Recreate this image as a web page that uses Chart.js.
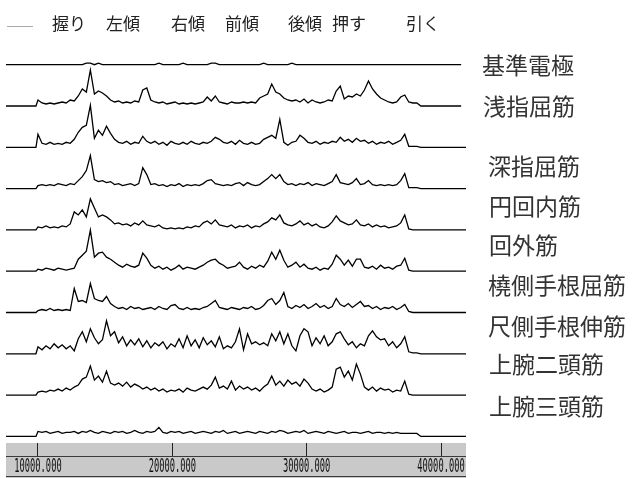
<!DOCTYPE html>
<html>
<head>
<meta charset="utf-8">
<script src="https://cdn.jsdelivr.net/npm/chart.js@4.4.1/dist/chart.umd.min.js"></script>
<style>
  body { margin: 0; background: #fff; }
  canvas { display: block; }
</style>
</head>
<body>
<canvas id="emg" width="632" height="478"></canvas>
<script>
// 上部の動作ラベルと右側の筋名
const phases = ['握り', '左傾', '右傾', '前傾', '後傾', '押す', '引く'];
const muscles = ['基準電極', '浅指屈筋', '深指屈筋', '円回内筋', '回外筋',
  '橈側手根屈筋', '尺側手根伸筋', '上腕二頭筋', '上腕三頭筋'];
const xTicks = [10000, 20000, 30000, 40000];

// 各チャンネルの振幅 (10000 から 300 刻み, 95 点)
const ch0 = [
  0, 0, 0, 0, 0, 0, 0, 0, 0, 0,
  0, 0, 1.5, 1.5, 0, 1.5, 0, 0, 0, 0,
  0, 0, 0, 0, 0, 0, 0, 0, 0, 0,
  1.5, 0, 0, 0, 0, 0, 1.5, 0, 0, 0,
  0, 0, 0, 1.5, 1.5, 0, 0, 0, 0, 0,
  0, 0, 0, 0, 0, 0, 1.5, 0, 0, 0,
  0, 0, 0, 1.5, 0, 0, 0, 0, 0, 0,
  0, 0, 0, 0, 0, 0, 0, 0, 0, 0,
  0, 0, 0, 0, 0, 0, 0, 0, 0, 0,
  0, 0, 0, 0, 0];
const ch1 = [
  6, 3, 2, 3, 2, 3, 4, 3, 6, 5,
  10, 17, 14, 36, 12, 15, 13, 10, 6, 4,
  5, 3, 4, 3, 5, 4, 16, 18, 6, 4,
  3, 4, 2, 3, 4, 2, 3, 2, 3, 2,
  3, 4, 9, 5, 10, 4, 3, 2, 4, 3,
  3, 4, 3, 4, 3, 8, 10, 12, 22, 14,
  12, 8, 6, 5, 6, 4, 7, 3, 6, 4,
  3, 4, 6, 5, 15, 20, 7, 10, 9, 12,
  10, 16, 25, 17, 12, 8, 6, 4, 3, 4,
  9, 11, 4, 3, 3];
const ch2 = [
  13, 4, 3, 5, 3, 4, 3, 5, 4, 8,
  15, 20, 22, 42, 9, 17, 12, 21, 14, 8,
  5, 4, 6, 3, 5, 4, 11, 6, 4, 6,
  3, 5, 2, 6, 4, 3, 5, 3, 6, 4,
  3, 5, 4, 6, 10, 8, 5, 4, 6, 3,
  7, 4, 3, 5, 3, 4, 8, 10, 12, 9,
  28, 5, 2, 5, 6, 12, 9, 5, 4, 6,
  3, 5, 4, 6, 5, 10, 6, 8, 5, 9,
  6, 7, 4, 6, 3, 5, 4, 6, 3, 5,
  7, 13, 1, 1, 1];
const ch3 = [
  3, 4, 3, 4, 3, 5, 4, 3, 5, 4,
  8, 12, 18, 33, 9, 7, 8, 6, 7, 4,
  5, 3, 4, 5, 3, 5, 21, 14, 4, 5,
  3, 4, 2, 4, 3, 5, 2, 4, 3, 4,
  3, 5, 8, 9, 5, 4, 3, 4, 3, 5,
  6, 3, 6, 4, 3, 4, 7, 10, 14, 10,
  14, 7, 4, 5, 3, 5, 4, 6, 3, 5,
  4, 3, 5, 7, 14, 6, 5, 4, 6, 10,
  4, 5, 8, 4, 3, 4, 3, 4, 3, 4,
  8, 15, 1, 1, 1];
const ch4 = [
  3, 2, 4, 2, 3, 2, 4, 3, 6, 18,
  15, 20, 13, 31, 22, 13, 15, 13, 10, 6,
  7, 5, 6, 4, 7, 5, 9, 5, 4, 3,
  5, 2, 1, 2, 1, 2, 1, 3, 2, 4,
  3, 7, 9, 6, 10, 5, 4, 3, 5, 2,
  4, 3, 5, 2, 4, 3, 6, 8, 12, 10,
  15, 7, 5, 4, 6, 9, 5, 7, 4, 6,
  3, 2, 4, 8, 14, 9, 7, 5, 6, 10,
  5, 4, 6, 3, 5, 3, 4, 2, 3, 4,
  7, 15, 1, 0, 0];
const ch5 = [
  2, 1, 3, 2, 1, 3, 2, 1, 2, 3,
  12, 16, 20, 41, 14, 18, 19, 14, 12, 9,
  6, 4, 7, 5, 4, 6, 18, 13, 6, 3,
  5, 2, 4, 1, 3, 6, 2, 4, 3, 2,
  4, 6, 9, 11, 12, 8, 6, 3, 4, 5,
  9, 4, 2, 5, 3, 6, 4, 10, 19, 12,
  21, 11, 4, 6, 9, 4, 7, 3, 2, 4,
  1, 3, 2, 7, 16, 12, 6, 11, 5, 12,
  12, 4, 3, 5, 2, 6, 3, 4, 2, 5,
  6, 13, 1, 0, 0];
const ch6 = [
  2, 3, 2, 4, 2, 3, 2, 3, 2, 24,
  11, 12, 10, 29, 14, 12, 11, 16, 9, 6,
  4, 5, 3, 6, 4, 5, 3, 4, 5, 3,
  6, 4, 3, 7, 8, 4, 3, 5, 3, 4,
  3, 5, 6, 9, 12, 5, 4, 3, 5, 4,
  3, 5, 4, 6, 3, 4, 7, 12, 14, 8,
  12, 20, 6, 4, 7, 5, 8, 4, 6, 9,
  5, 7, 4, 6, 14, 8, 6, 9, 5, 8,
  11, 6, 7, 4, 6, 3, 5, 4, 6, 3,
  5, 8, 1, 0, 0];
const ch7 = [
  7, 4, 8, 5, 10, 6, 9, 5, 8, 3,
  15, 22, 12, 25, 16, 10, 14, 33, 18, 22,
  11, 17, 8, 14, 9, 15, 7, 13, 6, 11,
  8, 12, 5, 10, 7, 15, 6, 18, 8, 14,
  6, 16, 9, 13, 7, 17, 5, 8, 6, 12,
  25, 4, 20, 10, 12, 9, 11, 8, 20, 13,
  22, 10, 20, 8, 3, 18, 25, 22, 8, 16,
  10, 18, 8, 12, 20, 22, 15, 9, 12, 6,
  10, 8, 18, 23, 17, 14, 15, 8, 12, 6,
  10, 17, 2, 1, 1];
const ch8 = [
  3, 4, 3, 5, 4, 6, 4, 7, 5, 8,
  10, 16, 18, 29, 15, 19, 13, 24, 12, 10,
  12, 9, 13, 8, 11, 9, 6, 8, 5, 7,
  4, 6, 3, 5, 4, 6, 3, 7, 5, 4,
  6, 8, 6, 10, 18, 7, 9, 6, 14, 5,
  9, 6, 8, 5, 7, 4, 8, 11, 19, 10,
  14, 9, 15, 11, 13, 9, 16, 12, 6, 4,
  6, 3, 5, 8, 26, 28, 18, 24, 15, 31,
  21, 8, 5, 8, 4, 7, 5, 6, 3, 5,
  4, 14, 1, 0, 0];
const ch9 = [
  5, 4, 5, 3, 4, 5, 3, 4, 4, 5,
  3, 5, 4, 6, 4, 3, 5, 4, 3, 5,
  4, 5, 3, 4, 6, 4, 3, 5, 4, 5,
  9, 4, 3, 5, 4, 5, 3, 4, 5, 3,
  4, 5, 4, 3, 5, 4, 6, 3, 4, 5,
  3, 4, 5, 4, 3, 5, 4, 3, 5, 4,
  6, 5, 3, 4, 5, 4, 6, 3, 4, 5,
  4, 3, 5, 4, 3, 4, 5, 3, 4, 4,
  3, 4, 5, 3, 4, 4, 3, 4, 3, 4,
  3, 3, 3, 3, 3];

const channels = [ch0, ch1, ch2, ch3, ch4, ch5, ch6, ch7, ch8, ch9];
const xMin = 7620, xMax = 41860, sigStart = 10000, step = 300;

// 1 単位 = 1px の縦軸に各チャンネルを 41.3 ずつずらして並べる
function toPoints(amps, k) {
  const base = 378.3 - 41.3 * k;
  const end = k < 2 ? 41500 : xMax;
  const pts = [{ x: xMin, y: base }, { x: sigStart - 150, y: base }];
  amps.forEach((a, i) => pts.push({ x: sigStart + step * i, y: base + a }));
  const last = sigStart + step * amps.length;
  pts.push({ x: last, y: base }, { x: end, y: base });
  return pts;
}

const decor = {
  id: 'decor',
  beforeDraw(chart) {
    const { ctx } = chart;
    const s = chart.scales.x;
    ctx.save();
    ctx.fillStyle = '#c9c9c9';
    ctx.fillRect(s.left, s.top, s.right - s.left, s.bottom - s.top);
    ctx.restore();
  },
  afterDraw(chart) {
    const { ctx } = chart;
    const s = chart.scales.x;
    ctx.save();
    // 軸の枠線
    ctx.strokeStyle = '#3a3a3a';
    ctx.lineWidth = 1;
    ctx.beginPath();
    ctx.moveTo(s.left, 456.5); ctx.lineTo(s.right, 456.5);
    ctx.moveTo(s.left, 476.5); ctx.lineTo(s.right, 476.5);
    ctx.stroke();

    // 目盛りの数字 (縦長のフォント)
    ctx.fillStyle = '#111';
    ctx.font = '19px "DejaVu Sans Mono"';
    ctx.textAlign = 'center';
    ctx.textBaseline = 'middle';
    s.ticks.forEach(t => {
      ctx.save();
      ctx.translate(s.getPixelForValue(t.value), 467);
      ctx.scale(0.46, 1);
      ctx.fillText(t.value.toFixed(3), 0, 0);
      ctx.restore();
    });

    // 上部の凡例
    ctx.strokeStyle = '#aaa';
    ctx.beginPath();
    ctx.moveTo(7, 26.5); ctx.lineTo(33, 26.5);
    ctx.stroke();
    ctx.fillStyle = '#222';
    ctx.font = '17px "Noto Sans CJK JP"';
    ctx.textAlign = 'left';
    const px = [52, 106, 171, 225, 288, 332, 406];
    phases.forEach((p, i) => ctx.fillText(p, px[i], 23.5));

    // 右側の筋名
    ctx.fillStyle = '#333';
    ctx.font = '23px "Noto Sans CJK JP"';
    const pos = [[482, 65], [483, 106.5], [488, 166], [489, 206.5], [489, 245],
      [488, 285], [488, 326], [489, 364], [489, 406.5]];
    muscles.forEach((m, i) => ctx.fillText(m, pos[i][0], pos[i][1]));
    ctx.restore();
  }
};

new Chart(document.getElementById('emg'), {
  type: 'line',
  data: {
    datasets: channels.map((c, k) => ({
      data: toPoints(c, k),
      borderColor: '#000',
      borderWidth: 1.3,
      pointRadius: 0,
      tension: 0
    }))
  },
  options: {
    responsive: false,
    animation: false,
    layout: { padding: { left: 6, right: 166, top: 0, bottom: 0 } },
    plugins: { legend: { display: false }, tooltip: { enabled: false } },
    scales: {
      x: {
        type: 'linear',
        min: xMin,
        max: xMax,
        afterBuildTicks: s => { s.ticks = xTicks.map(v => ({ value: v })); },
        afterFit: s => { s.height = 35; },
        grid: { drawOnChartArea: false, tickLength: 14, tickColor: '#222' },
        border: { display: false },
        ticks: { display: false }
      },
      y: { display: false, min: 0, max: 443 }
    }
  },
  plugins: [decor]
});
</script>
</body>
</html>
